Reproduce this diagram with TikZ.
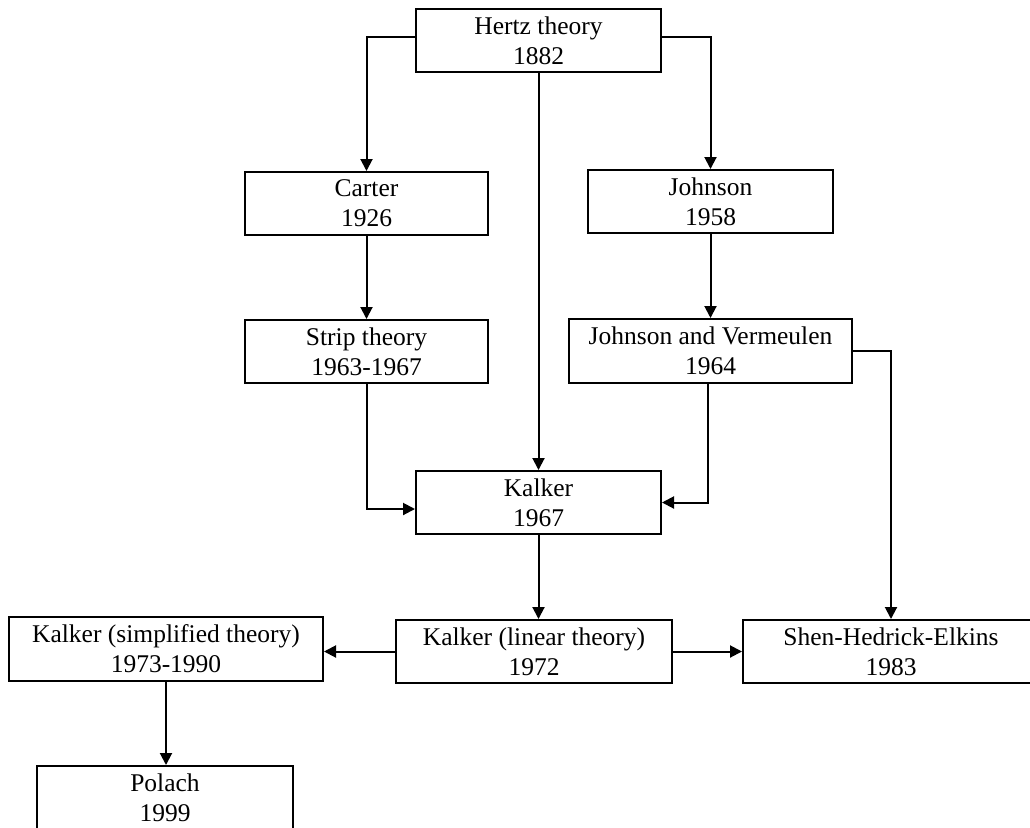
\documentclass[tikz,border=0pt]{standalone}
\usepackage{fontspec}
\setmainfont{Liberation Serif}
\usetikzlibrary{arrows.meta}
\begin{document}
\begin{tikzpicture}[x=1pt,y=-1pt,
  box/.style={draw, line width=2pt, align=center, inner sep=0pt,
    font=\fontsize{25.5}{30}\selectfont},
  arr/.style={line width=2pt, -{Triangle[length=12pt,width=12pt]}}]
\useasboundingbox (0,0) rectangle (1030,827);
\node[box, minimum width=245pt, minimum height=63pt] (hertz) at (538.5,40.5) {Hertz theory\\1882};
\node[box, minimum width=243pt, minimum height=63pt] (carter) at (366.5,203.5) {Carter\\1926};
\node[box, minimum width=245pt, minimum height=63pt] (johnson) at (710.5,201.5) {Johnson\\1958};
\node[box, minimum width=243pt, minimum height=63pt] (strip) at (366.5,351.5) {Strip theory\\1963-1967};
\node[box, minimum width=283pt, minimum height=64pt] (jv) at (710.5,351) {Johnson and Vermeulen\\1964};
\node[box, minimum width=245pt, minimum height=63pt] (k67) at (538.5,502.5) {Kalker\\1967};
\node[box, minimum width=276pt, minimum height=63pt] (linear) at (534,651.5) {Kalker (linear theory)\\1972};
\node[box, minimum width=314pt, minimum height=64pt] (simp) at (166,649) {Kalker (simplified theory)\\1973-1990};
\node[box, minimum width=296pt, minimum height=63pt] (shen) at (891,651.5) {Shen-Hedrick-Elkins\\1983};
\node[box, minimum width=256pt, minimum height=63pt] (polach) at (165,797.5) {Polach\\1999};

\draw[arr] ([yshift=3.5pt]hertz.west) -| (carter.north);
\draw[arr] ([yshift=3.5pt]hertz.east) -| (johnson.north);
\draw[arr] (hertz.south) -- (k67.north);
\draw[arr] (carter.south) -- (strip.north);
\draw[arr] (johnson.south) -- (jv.north);
\draw[arr] (strip.south) |- ([yshift=-6.5pt]k67.west);
\draw[arr] ([xshift=-2.5pt]jv.south) |- (k67.east);
\draw[arr] (jv.east) -| (shen.north);
\draw[arr] (k67.south) -- (k67.south |- linear.north);
\draw[arr] (linear.west) -- (linear.west -| simp.east);
\draw[arr] (linear.east) -- (shen.west);
\draw[arr] (simp.south) -- (simp.south |- polach.north);
\end{tikzpicture}
\end{document}
